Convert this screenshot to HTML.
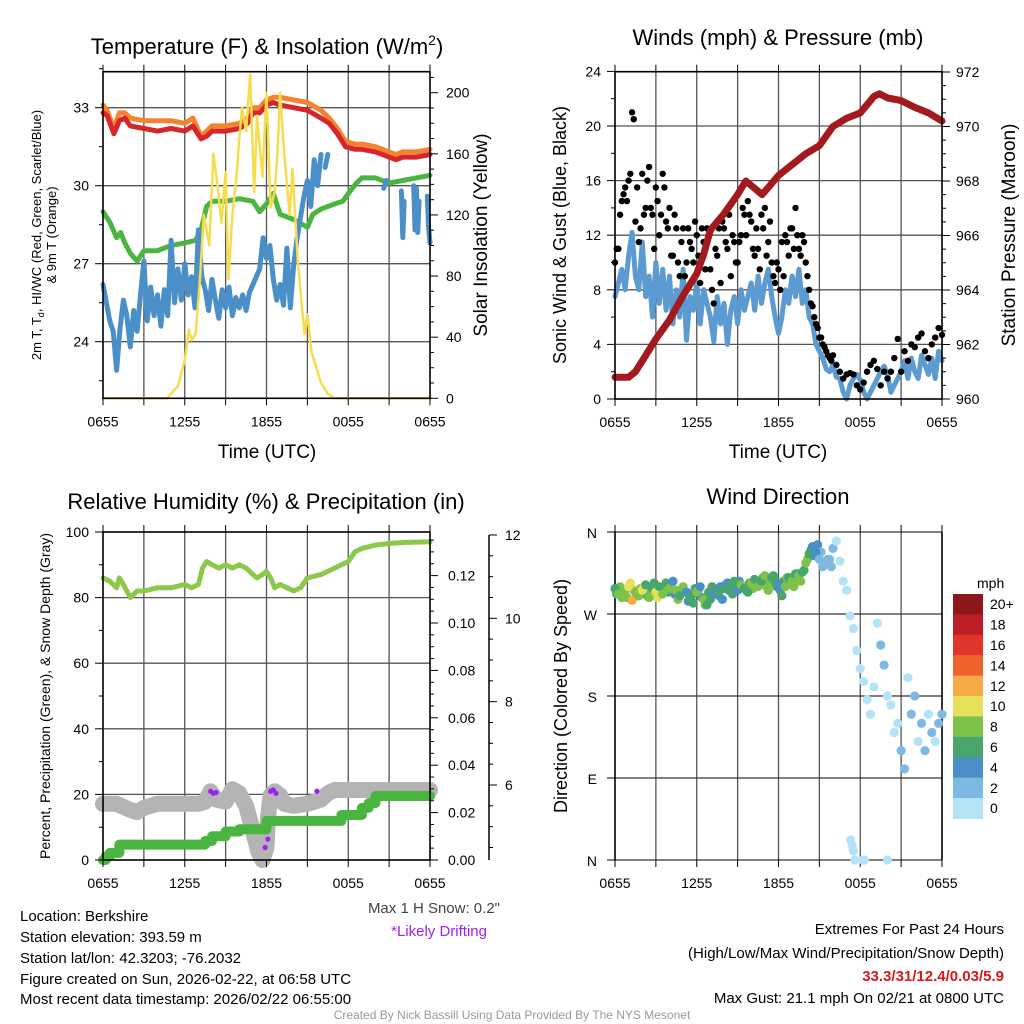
<!DOCTYPE html>
<html><head><meta charset="utf-8"><style>
html,body{margin:0;padding:0;background:#fff;}
svg{display:block;font-family:"Liberation Sans",sans-serif;}
</style></head><body>
<svg id="fig" width="1024" height="1024" viewBox="0 0 1024 1024" xmlns="http://www.w3.org/2000/svg">
<rect width="1024" height="1024" fill="#fff"/>
<g id="layer"></g>
<g font-size="22" text-anchor="middle" fill="#000">
<text x="267" y="54">Temperature (F) &amp; Insolation (W/m<tspan font-size="14" dy="-9">2</tspan><tspan dy="9">)</tspan></text>
<text x="778" y="45">Winds (mph) &amp; Pressure (mb)</text>
<text x="266" y="509">Relative Humidity (%) &amp; Precipitation (in)</text>
<text x="778" y="504">Wind Direction</text>
</g>
<g font-size="19" text-anchor="middle">
<text x="267" y="458">Time (UTC)</text>
<text x="778" y="458">Time (UTC)</text>
<text transform="translate(487,235) rotate(-90)">Solar Insolation (Yellow)</text>
<text transform="translate(566,235) rotate(-90)" font-size="18">Sonic Wind &amp; Gust (Blue, Black)</text>
<text transform="translate(1015,235) rotate(-90)">Station Pressure (Maroon)</text>
<text transform="translate(567,696) rotate(-90)" font-size="18">Direction (Colored By Speed)</text>
</g>
<g font-size="13" text-anchor="middle">
<text transform="translate(41,235) rotate(-90)">2m T, T<tspan font-size="9" dy="3">d</tspan><tspan dy="-3">, HI/WC (Red, Green, Scarlet/Blue)</tspan></text>
<text transform="translate(56,235) rotate(-90)">&amp; 9m T (Orange)</text>
<text transform="translate(50,696) rotate(-90)" font-size="14">Percent, Precipitation (Green), &amp; Snow Depth (Gray)</text>
</g>
<g font-size="15">
<text x="500" y="913" text-anchor="end" fill="#444">Max 1 H Snow: 0.2"</text>
<text x="487" y="936" text-anchor="end" fill="#a020f0">*Likely Drifting</text>
<text x="20" y="921">Location: Berkshire</text>
<text x="20" y="942">Station elevation: 393.59 m</text>
<text x="20" y="963">Station lat/lon: 42.3203; -76.2032</text>
<text x="20" y="984">Figure created on Sun, 2026-02-22, at 06:58 UTC</text>
<text x="20" y="1004">Most recent data timestamp: 2026/02/22 06:55:00</text>
<text x="1004" y="934" text-anchor="end">Extremes For Past 24 Hours</text>
<text x="1004" y="958" text-anchor="end">(High/Low/Max Wind/Precipitation/Snow Depth)</text>
<text x="1004" y="981" text-anchor="end" fill="#d7191c" font-weight="bold">33.3/31/12.4/0.03/5.9</text>
<text x="1004" y="1003" text-anchor="end">Max Gust: 21.1 mph On 02/21 at 0800 UTC</text>
<text x="512" y="1019" text-anchor="middle" font-size="12" fill="#999">Created By Nick Bassill Using Data Provided By The NYS Mesonet</text>
</g>
</svg>
<script>
// ---------- data ----------
const xLabels = ["0655","1255","1855","0055","0655"];
const redT = [0,0.3,0.8,1.2,1.6,2,3,4,5,6,6.6,7.2,7.6,8,9,10,10.6,11,11.5,12,12.5,13,14,15,16,16.6,17.2,17.8,18.5,19,20,21,21.5,22,23,24];
const redV = [32.8,32.7,32.0,32.5,32.6,32.3,32.2,32.1,32.2,32.1,32.3,31.8,31.9,32.1,32.1,32.2,32.4,32.8,32.8,33.1,33.2,33.1,33.0,32.9,32.6,32.4,32.0,31.5,31.4,31.4,31.3,31.1,31.0,31.1,31.1,31.2];
const orangeV = [33.1,32.9,32.2,32.8,32.8,32.6,32.5,32.5,32.5,32.4,32.6,31.9,32.1,32.3,32.3,32.4,32.6,33.0,33.0,33.3,33.4,33.4,33.3,33.2,32.9,32.6,32.2,31.7,31.6,31.6,31.5,31.3,31.2,31.3,31.3,31.4];
const greenT = [0,0.5,1,1.3,1.6,2,2.5,3,4,5,6,6.8,7.2,7.6,8,9,10,11,11.5,12,12.5,13,14,15,15.4,16,17,17.6,18,18.6,19,20,20.5,21,22,23,24];
const greenV = [29.0,28.6,28.0,28.2,27.8,27.4,27.1,27.5,27.5,27.7,27.8,27.9,28.3,29.2,29.4,29.4,29.5,29.4,29.0,29.3,29.7,28.9,28.7,28.4,28.9,29.1,29.3,29.4,29.7,30.1,30.3,30.3,30.2,30.1,30.2,30.3,30.4];
const blueV = [26.2,25.5,24.8,24.4,22.9,24.5,25.6,25.0,23.8,25.2,24.4,25.8,27.1,24.8,26.1,25.0,25.8,24.6,26.0,25.0,27.9,25.5,26.8,25.6,27.0,25.8,26.5,25.3,28.3,26.5,26.0,25.2,26.4,25.6,24.9,26.0,25.3,26.1,25.0,25.7,25.3,25.8,25.2,25.9,26.2,26.5,26.8,28.0,27.2,27.7,26.4,25.6,26.2,25.4,27.6,25.3,27.0,28.0,28.8,29.6,30.2,29.2,31.0,30.0,31.2];
const blueExtraT = [16.3,16.5,null,20.6,20.8,null,21.9,22.0,22.1,null,22.8,22.9,23.0,23.1,23.2,null,23.8,23.9,24.0];
const blueExtraV = [30.7,31.2,null,29.9,30.2,null,29.8,28.0,29.4,null,30.0,28.3,29.9,28.2,29.4,null,29.6,28.4,27.8];
const solT = [0,4.7,5.5,6.0,6.3,6.5,6.8,7.1,7.4,7.8,8.1,8.4,8.7,9.0,9.2,9.5,9.8,10.0,10.2,10.5,10.8,11.1,11.3,11.7,12.0,12.3,12.6,12.8,13.0,13.3,13.7,13.9,14.3,14.6,14.8,15.0,15.3,15.6,16.0,16.5,17.0,24];
const solV = [0,0,8,25,45,38,42,75,120,100,160,140,115,148,78,120,145,170,190,175,212,135,185,145,200,125,135,160,200,160,120,150,90,60,42,55,30,22,10,3,0,0];
const presT = [0,1,1.5,2,3,4,5,6,6.5,7,8,9,9.6,10.8,12,13,14,15,16,17,18,19,19.4,20,21,22,23,24];
const presV = [960.8,960.8,961.0,961.4,962.2,962.9,963.8,964.6,965.3,966.2,966.8,967.5,968.0,967.5,968.2,968.6,969.0,969.3,970.0,970.3,970.5,971.1,971.2,971.05,970.95,970.7,970.5,970.2];
const windV = [7.5,8.5,9.5,8.0,10.5,12.2,9.0,8.0, 11.5,7.5,9.0,6.0,10.0,7.0,9.5,6.5, 9.0,5.5,8.0,6.0,9.5,4.3,7.5,6.5, 8.5,5.5,8.0,7.0,6.0,4.2,7.5,5.5, 7.0,4.0,6.5,7.5,5.5,8.0,6.5,7.5, 8.5,6.5,9.0,7.0,8.5,9.5,7.5,6.0, 4.8,6.0,8.0,7.0,9.0,7.5,9.5,7.0, 8.0,6.0,5.5,4.0,3.5,3.0,2.2,2.0, 2.5,1.6,1.5,0.5,0.0,1.0,1.5,1.8, 1.4,0.5,0.0,0.5,1.0,1.5,2.0,2.4, 1.8,0.5,1.0,1.5,2.0,2.8,1.5,3.0, 2.0,1.5,3.2,2.5,1.8,3.0,1.5,3.5, 2.8];
const gustV = [10.0,11.0,14.5,15.5,16.0,21.0,13.0,11.5, 16.5,14.0,17.0,13.5,15.5,12.0,16.5,13.0, 14.0,10.5,12.5,9.0,12.5,10.0,11.5,10.0, 12.0,8.5,11.5,12.5,9.5,7.0,10.5,8.5, 12.5,11.0,9.0,11.5,10.0,12.0,13.5,14.5, 13.0,10.5,11.0,13.5,14.0,11.5,10.0,8.5, 9.5,11.5,12.0,10.5,12.5,14.0,11.0,12.0, 10.0,8.0,6.8,5.5,4.5,4.0,3.5,3.0, 3.2,2.5,2.0,1.5,1.8,1.9,1.8,1.0, 0.7,1.2,2.0,2.5,2.8,2.2,1.0,2.0, 1.5,2.0,3.0,4.4,2.0,3.5,2.8,4.0, 3.8,4.5,4.8,3.5,3.0,4.0,4.5,5.2, 4.7];
const gust2V = [11.0,13.5,15.0,14.5,16.5,20.5,15.5,12.5, 13.5,16.0,14.0,11.0,14.5,13.5,15.5,12.5, 10.5,13.5,10.0,11.5,9.0,12.5,11.0,13.0, 10.5,12.5,9.5,12.0,8.0,11.0,12.5,13.0, 11.5,13.5,12.0,10.0,11.5,14.0,12.0,13.5, 11.0,12.5,9.5,12.5,10.5,13.0,9.0,10.0, 8.0,9.0,11.5,12.5,11.0,12.0,10.5,11.5, 9.0,7.0,6.0,5.2,4.5,3.8,3.2,2.8];
const dirV = [298,292,288,296,300,285,294,290, 296,302,288,298,294,300,292,304, 298,306,296,290,300,294,288,282, 294,300,286,280,286,292,296,300, 298,304,300,306,296,302,298,294, 304,308,300,306,312,296,310,306, 302,290,300,310,306,314,312,316, 326,336,344,338,330,322,326,330, 342,350,328,306,296,268,254,230, 210,196,176,160,190,260,236,214, 180,170,140,150,120,100,200,160, 180,130,150,120,160,140,130,150, 160];
const dir2V = [292,300,294,288,304,296,290,298, 300,290,296,304,288,296,300,294, 302,292,286,296,294,284,290,298, 296,288,280,294,300,296,290,286, 302,296,292,298,306,300,296,304, 298,306,302,310,300,304,312,300, 296,306,310,304,300,314,306,318, 330,340,334,346,338,326,330,322];
const calmDirT = [17.3,17.4,17.5,17.6,18.2,18.3,20.0];
const calmDirV = [22,16,10,0,0,0,0];
const rhT = [0,0.5,1,1.2,1.5,2,2.5,3,4,5,6,6.5,7,7.3,7.6,8,8.5,9,9.5,10,10.5,11,11.3,11.7,12,12.3,12.6,13,13.5,14,14.5,15,16,17,17.5,18,18.5,19,20,21,22,24];
const rhV = [86,85,83,86,84,80,82,82,83,83,84,83,84,89,91,90,89,90,89,90,89,87,86,87,88,86,83,84,83,82,83,86,87,89,90,91,94,95,96,96.5,96.8,97];
const prT = [0,0.2,0.5,1,1.2,7,7.5,8,9,10,11.5,12,12.5,17,17.5,18,19,19.5,20,24];
const prV = [0,0.0015,0.003,0.003,0.0065,0.0065,0.008,0.010,0.012,0.013,0.013,0.0165,0.0165,0.0165,0.019,0.019,0.022,0.024,0.027,0.027];
const snT = [0,1,2,2.5,3,4,5,6,7,7.5,7.9,8.3,9,9.5,10,10.5,11,11.4,11.7,12,12.1,12.3,12.6,13,13.3,14,15,16,16.5,17,18,24];
const snV = [5.55,5.55,5.4,5.35,5.45,5.55,5.55,5.55,5.55,5.6,5.85,5.65,5.6,5.9,5.8,5.5,4.9,4.4,4.2,4.5,5.2,5.75,5.85,5.75,5.55,5.5,5.55,5.65,5.8,5.88,5.88,5.88];
const driftT = [7.9,8.1,8.3,11.9,12.0,12.1,12.3,12.5,12.7,15.7];
const driftV = [5.85,5.8,5.82,4.5,5.0,4.7,5.85,5.88,5.8,5.85];
const speedBins = ["0","2","4","6","8","10","12","14","16","18","20+"];
const binColors = ["#b4e3f8","#7db9e2","#4a8fc6","#48a56c","#7dc24b","#e6e15b","#f5a947","#ee622d","#de3429","#bb1f25","#8e1719"];

// ---------- helpers ----------
const NS="http://www.w3.org/2000/svg";
const layer=document.getElementById('layer');
function el(tag,attrs,parent){const e=document.createElementNS(NS,tag);for(const k in attrs)e.setAttribute(k,attrs[k]);(parent||layer).appendChild(e);return e;}
function pathD(ts,vs,xf,yf){let d="",pen=false;for(let i=0;i<ts.length;i++){if(ts[i]===null||vs[i]===null){pen=false;continue;}d+=(pen?"L":"M")+xf(ts[i]).toFixed(1)+","+yf(vs[i]).toFixed(1);pen=true;}return d;}
function stepD(ts,vs,xf,yf){let d="M"+xf(ts[0])+","+yf(vs[0]);for(let i=1;i<ts.length;i++){d+="L"+xf(ts[i])+","+yf(vs[i-1])+"L"+xf(ts[i])+","+yf(vs[i]);}return d;}
const q=i=>i*0.25;
const gridT=windV.map((v,i)=>q(i));
const blueT=blueV.map((v,i)=>q(i));
const halfT=gust2V.map((v,i)=>q(i)+0.125);
function binIdx(s){return Math.min(10,Math.floor(s/2));}

// scales
const xA=t=>103+t*327/24;
const xB=t=>615+t*327/24;
const yT=v=>107.7+(33-v)*26;
const ySol=v=>398.3-v*1.528;
const yWind=v=>399-v*13.65;
const yPres=v=>399-(v-960)*27.25;
const yRH=v=>860-v*3.28;
const yPr=v=>860-v/0.02*47.4;
const ySn=v=>785-(v-6)*41.67;
const yDir=v=>860-v*328/360;

function text(x,y,s,anchor,size,name){const t=el('text',{x:x,y:y,'text-anchor':anchor,'font-size':size});t.textContent=s;


return t;}
function vgrid(xf,y0,y1,name){for(let h=3;h<24;h+=3){const l=el('line',{x1:xf(h),x2:xf(h),y1:y0,y2:y1,stroke:'#555','stroke-width':1.3});

}}
function hgrid(vals,yf,x0,x1,name){vals.forEach(v=>{const l=el('line',{x1:x0,x2:x1,y1:yf(v),y2:yf(v),stroke:'#555','stroke-width':1.3});

});}
function xticks(xf,yb,yt,name){for(let h=0;h<=24;h+=3){const a=el('line',{x1:xf(h),x2:xf(h),y1:yb,y2:yb+7,stroke:'#000','stroke-width':1});


if(yt!==null){const b=el('line',{x1:xf(h),x2:xf(h),y1:yt,y2:yt-7,stroke:'#000','stroke-width':1});

}}
xLabels.forEach((s,i)=>text(xf(i*6),yb+28,s,'middle',14,name+'-label'));}
function yticks(vals,minors,yf,x,dir,labelFmt,name,labelOff){minors.forEach(v=>{const t=el('line',{x1:x,x2:x+dir*4,y1:yf(v),y2:yf(v),stroke:'#000','stroke-width':1});

});
vals.forEach(v=>{const t=el('line',{x1:x,x2:x+dir*8,y1:yf(v),y2:yf(v),stroke:'#000','stroke-width':1});


text(x+dir*(labelOff||14),yf(v)+5,labelFmt(v),dir<0?'end':'start',14,name+'-label');});}
function box(x0,y0,x1,y1,name){const r=el('rect',{x:x0,y:y0,width:x1-x0,height:y1-y0,fill:'none',stroke:'#000','stroke-width':1.6});

}
function line(ts,vs,xf,yf,color,w,name){const p=el('path',{d:pathD(ts,vs,xf,yf),fill:'none',stroke:color,'stroke-width':w,'stroke-linejoin':'round','stroke-linecap':'round'});

return p;}
function range(a,b,s){const r=[];for(let v=a;v<=b+1e-9;v+=s)r.push(+v.toFixed(4));return r;}

// ---------- Panel 1: temperature ----------
vgrid(xA,71.7,398.3,'temp-vgrid');
hgrid([24,27,30,33],yT,103,430,'temp-hgrid');
line(greenT,greenV,xA,yT,'#4bb541',5,'dewpoint-line');
line(blueT,blueV,xA,yT,'#4b8fc8',5,'heat-index-line');
line(blueExtraT,blueExtraV,xA,yT,'#4b8fc8',5,'heat-index-line-late');
line(redT,orangeV,xA,yT,'#f58231',5,'temp-9m-line');
line(redT,redV,xA,yT,'#d7262b',5,'temp-2m-line');
line(solT,solV,xA,ySol,'#f7dc4e',2.5,'solar-line');
box(103,71.7,430,398.3,'temp-plot-frame');
xticks(xA,398.3,71.7,'temp-x');
yticks([24,27,30,33],[22.5,25.5,28.5,31.5,34.5],yT,103,-1,v=>String(v),'temp-y',14);
yticks([0,40,80,120,160,200],range(10,210,10).filter(v=>v%40),ySol,430,1,v=>String(v),'solar-y',16);

// ---------- Panel 2: winds ----------
vgrid(xB,71.7,399,'wind-vgrid');
hgrid([4,8,12,16,20],yWind,615,942,'wind-hgrid');
line(gridT,windV,xB,yWind,'#5b9bd1',5,'wind-speed-line');
gustV.forEach((g,i)=>{const c=el('circle',{cx:xB(gridT[i]),cy:yWind(g),r:3.2,fill:'#000'});

});
gust2V.forEach((g,i)=>{const c=el('circle',{cx:xB(halfT[i]),cy:yWind(g),r:3.2,fill:'#000'});

});
line(presT,presV,xB,yPres,'#a31a1e',7,'pressure-line');
box(615,71.7,942,399,'wind-plot-frame');
xticks(xB,399,71.7,'wind-x');
yticks([0,4,8,12,16,20,24],[2,6,10,14,18,22],yWind,615,-1,v=>String(v),'wind-y',14);
yticks([960,962,964,966,968,970,972],range(960.5,971.5,0.5).filter(v=>v%2),yPres,942,1,v=>String(v),'pressure-y',14);

// ---------- Panel 3: humidity ----------
vgrid(xA,532,860,'rh-vgrid');
hgrid([20,40,60,80],yRH,103,430,'rh-hgrid');
line(snT,snV,xA,ySn,'#b4b4b4',16,'snow-depth-line');
driftT.forEach((t,i)=>{const c=el('circle',{cx:xA(t),cy:ySn(driftV[i]),r:2.6,fill:'#a020f0'});

});
const pp=el('path',{d:stepD(prT,prV,xA,yPr),fill:'none',stroke:'#4bb541','stroke-width':10,'stroke-linejoin':'round','stroke-linecap':'round'});


line(rhT,rhV,xA,yRH,'#8cc84b',5,'humidity-line');
box(103,532,430,860,'rh-plot-frame');
xticks(xA,860,532,'rh-x');
yticks([0,20,40,60,80,100],[10,30,50,70,90],yRH,103,-1,v=>String(v),'rh-y',14);
yticks(range(0,0.12,0.02),range(0.005,0.135,0.005).filter(v=>Math.abs(v/0.02-Math.round(v/0.02))>0.01),yPr,430,1,v=>v.toFixed(2),'precip-y',18);
const sa=el('line',{x1:489,x2:489,y1:535,y2:860,stroke:'#000','stroke-width':1.5});


yticks([6,8,10,12],[5,7,9,11,4.5,5.5,6.5,7.5,8.5,9.5,10.5,11.5],ySn,489,1,v=>String(v),'snow-y',16);

// ---------- Panel 4: direction ----------
vgrid(xB,532,860,'dir-vgrid');
const dirLabels=["N","E","S","W","N"];
[0,90,180,270,360].forEach((d,i)=>{const l=el('line',{x1:607,x2:942,y1:yDir(d),y2:yDir(d),stroke:'#333','stroke-width':1.3});


text(597,yDir(d)+6,dirLabels[i],'end',14,'dir-y-label');});
[0,24].forEach(h=>{const l=el('line',{x1:xB(h),x2:xB(h),y1:532,y2:860,stroke:'#000','stroke-width':1.6});

});
xticks(xB,860,532,'dir-x');
dir2V.forEach((d,i)=>{const c=el('circle',{cx:xB(halfT[i]),cy:yDir(d),r:4.6,fill:binColors[binIdx(windV[i])]});

});
dirV.forEach((d,i)=>{const c=el('circle',{cx:xB(gridT[i]),cy:yDir(d),r:4.6,fill:binColors[binIdx(windV[i])]});

});
calmDirT.forEach((t,i)=>{const c=el('circle',{cx:xB(t),cy:yDir(calmDirV[i]),r:4.6,fill:binColors[0]});

});
// colorbar
const cbTop=594,cbH=20.4;
text(977,588,'mph','start',14,'colorbar-unit');
for(let k=0;k<11;k++){const idx=10-k;const r=el('rect',{x:953,y:cbTop+k*cbH,width:30,height:cbH+0.5,fill:binColors[idx]});


text(990,cbTop+k*cbH+cbH/2+5,speedBins[idx],'start',14,'colorbar-label');}
</script>
</body></html>
